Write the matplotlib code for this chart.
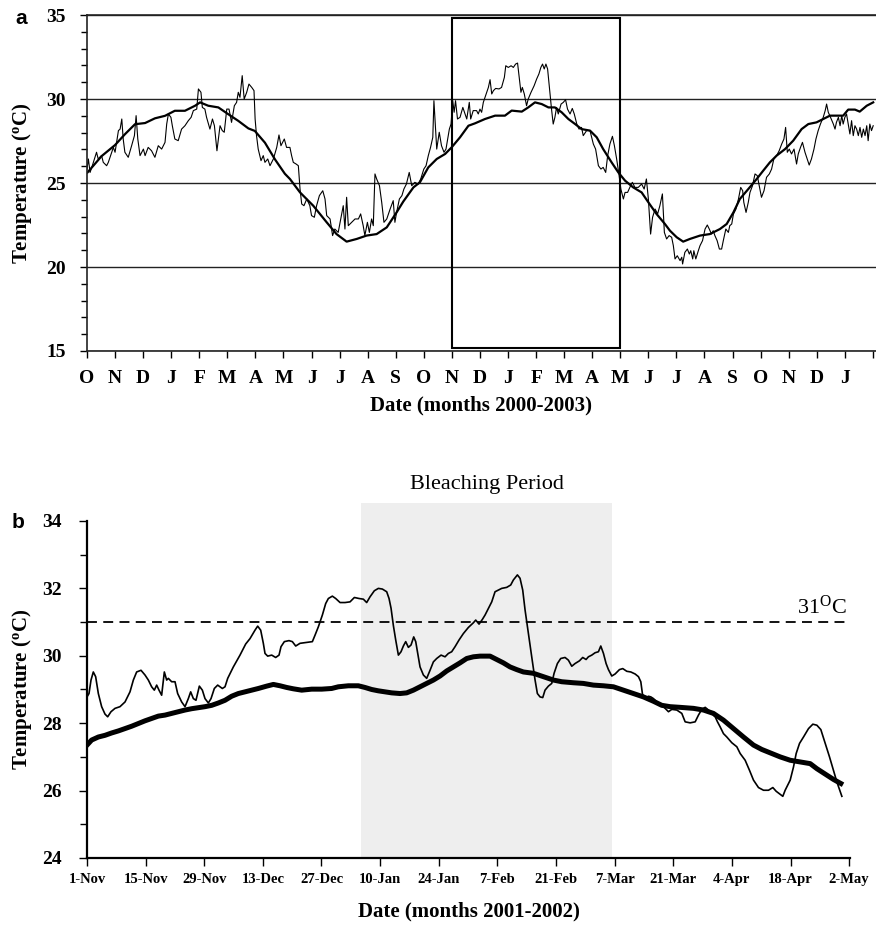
# %%
import matplotlib
matplotlib.use('Agg')
from matplotlib import pyplot as plt
from matplotlib.patches import Rectangle
from matplotlib.ticker import MultipleLocator

plt.rcParams['font.family'] = ['Liberation Serif', 'DejaVu Serif']
plt.rcParams['mathtext.default'] = 'regular'

# %%
# panel a: x = months since 1-Oct-2000
month_letters = ['O', 'N', 'D', 'J', 'F', 'M', 'A', 'M', 'J', 'J', 'A', 'S',
                 'O', 'N', 'D', 'J', 'F', 'M', 'A', 'M', 'J', 'J', 'A', 'S',
                 'O', 'N', 'D', 'J']

daily_month = [
    0.00, 0.05, 0.11, 0.19, 0.34, 0.40, 0.52, 0.58, 0.70, 0.76, 0.88, 0.94, 1.00, 1.12, 1.18, 1.24,
    1.29, 1.35, 1.47, 1.59, 1.69, 1.75, 1.81, 1.89, 2.01, 2.07, 2.18, 2.30, 2.42, 2.54, 2.66, 2.78,
    2.84, 2.90, 2.99, 3.04, 3.13, 3.25, 3.37, 3.49, 3.61, 3.71, 3.79, 3.91, 3.97, 4.06, 4.11, 4.20,
    4.26, 4.38, 4.47, 4.54, 4.63, 4.68, 4.74, 4.82, 4.89, 4.98, 5.06, 5.15, 5.25, 5.33, 5.39, 5.45,
    5.53, 5.60, 5.69, 5.77, 5.87, 5.95, 5.99, 6.04, 6.10, 6.20, 6.28, 6.34, 6.44, 6.52, 6.64, 6.76,
    6.84, 6.91, 7.03, 7.11, 7.23, 7.29, 7.35, 7.45, 7.53, 7.59, 7.65, 7.73, 7.83, 7.94, 8.00, 8.10,
    8.18, 8.28, 8.40, 8.48, 8.54, 8.66, 8.75, 8.83, 8.95, 9.13, 9.19, 9.25, 9.31, 9.43, 9.55, 9.67,
    9.75, 9.84, 9.90, 9.99, 10.06, 10.14, 10.20, 10.26, 10.32, 10.42, 10.50, 10.58, 10.68, 10.80,
    10.91, 10.97, 11.03, 11.13, 11.22, 11.29, 11.38, 11.48, 11.57, 11.68, 11.80, 11.89, 12.00,
    12.08, 12.16, 12.24, 12.32, 12.36, 12.41, 12.46, 12.55, 12.63, 12.72, 12.79, 12.84, 12.91,
    12.97, 13.03, 13.08, 13.13, 13.20, 13.29, 13.39, 13.47, 13.53, 13.62, 13.67, 13.76, 13.88,
    13.94, 14.00, 14.06, 14.12, 14.20, 14.30, 14.36, 14.42, 14.48, 14.56, 14.68, 14.77, 14.87,
    14.92, 15.01, 15.11, 15.19, 15.27, 15.34, 15.40, 15.46, 15.51, 15.58, 15.66, 15.72, 15.82,
    15.93, 16.02, 16.10, 16.17, 16.23, 16.29, 16.35, 16.41, 16.49, 16.55, 16.61, 16.67, 16.73,
    16.79, 16.89, 16.97, 17.05, 17.12, 17.21, 17.29, 17.36, 17.45, 17.53, 17.62, 17.68, 17.80,
    17.92, 18.04, 18.12, 18.22, 18.31, 18.39, 18.48, 18.55, 18.63, 18.72, 18.79, 18.87, 18.95,
    19.02, 19.11, 19.17, 19.26, 19.34, 19.43, 19.52, 19.64, 19.76, 19.85, 19.93, 20.00, 20.08,
    20.15, 20.24, 20.33, 20.41, 20.50, 20.57, 20.65, 20.74, 20.83, 20.89, 20.95, 21.03, 21.13,
    21.19, 21.22, 21.30, 21.39, 21.46, 21.51, 21.58, 21.62, 21.69, 21.78, 21.84, 21.93, 22.02,
    22.10, 22.17, 22.25, 22.31, 22.37, 22.45, 22.53, 22.61, 22.67, 22.76, 22.85, 22.90, 22.97,
    23.03, 23.12, 23.21, 23.29, 23.36, 23.40, 23.48, 23.56, 23.62, 23.71, 23.80, 23.88, 23.95,
    24.03, 24.12, 24.21, 24.31, 24.39, 24.47, 24.57, 24.66, 24.75, 24.83, 24.89, 24.95, 25.02,
    25.10, 25.19, 25.28, 25.34, 25.42, 25.49, 25.58, 25.66, 25.73, 25.81, 25.90, 25.97, 26.05,
    26.13, 26.23, 26.30, 26.35, 26.41, 26.49, 26.59, 26.65, 26.70, 26.77, 26.83, 26.89, 26.94,
    27.00, 27.06, 27.12, 27.18, 27.24, 27.30, 27.36, 27.42, 27.48, 27.54, 27.60, 27.66, 27.72,
    27.78, 27.83, 27.89, 27.95, 28.01]
daily_temp = [
    25.83, 26.43, 25.63, 26.03, 26.83, 26.43, 26.63, 26.23, 26.03, 26.23, 26.83, 27.12, 26.83, 28.12, 28.21, 28.81,
    27.62, 26.83, 26.53, 27.22, 27.82, 29.01, 27.62, 26.63, 27.02, 26.63, 27.12, 26.92, 26.53, 27.22, 27.02, 27.42,
    28.51, 29.11, 28.91, 28.41, 27.62, 27.52, 28.21, 28.41, 28.71, 28.91, 29.31, 29.40, 30.60, 30.40, 29.50, 29.40,
    28.91, 28.21, 28.81, 28.41, 26.92, 27.62, 28.41, 28.12, 28.02, 29.40, 29.40, 28.61, 29.60, 29.80, 30.40, 30.10,
    31.39, 30.00, 30.40, 30.89, 30.69, 30.50, 28.81, 27.82, 27.02, 26.33, 26.63, 26.23, 26.43, 26.03, 26.43, 27.12,
    27.86, 27.22, 27.62, 27.12, 27.12, 26.63, 26.23, 26.13, 26.03, 24.64, 23.75, 23.65, 24.05, 23.65, 23.06, 22.96,
    23.65, 24.25, 24.54, 24.05, 23.06, 22.86, 21.87, 22.26, 22.06, 23.65, 22.26, 24.15, 22.46, 22.66, 22.86, 22.86,
    23.16, 22.46, 21.87, 22.66, 22.06, 22.86, 22.46, 25.54, 25.24, 24.84, 23.85, 22.66, 22.86, 23.45,
    23.95, 22.66, 23.25, 24.05, 24.25, 24.64, 24.94, 25.63, 24.84, 25.04, 24.94, 25.24, 25.83,
    26.03, 26.63, 27.12, 27.72, 29.90, 28.41, 27.02, 28.02, 27.22, 26.83, 27.02, 27.52, 28.21,
    28.51, 29.90, 29.21, 29.90, 28.81, 28.91, 29.50, 29.11, 28.81, 29.80, 28.81, 29.31, 29.31,
    29.11, 29.40, 29.21, 29.80, 30.20, 30.69, 31.15, 30.30, 30.50, 30.63, 30.60, 30.69, 31.29,
    31.98, 31.88, 31.98, 31.88, 32.08, 32.14, 31.29, 30.40, 30.69, 30.30, 29.60, 30.00, 30.40,
    30.79, 31.19, 31.49, 31.88, 32.08, 31.79, 32.08, 31.79, 30.40, 29.40, 28.51, 28.91, 29.50,
    29.11, 29.70, 29.80, 29.96, 29.40, 29.11, 29.44, 29.11, 28.51, 28.21, 28.31, 27.82, 28.12,
    28.12, 27.32, 27.02, 26.03, 25.83, 25.93, 25.63, 26.63, 27.32, 27.78, 27.22, 26.43, 25.54,
    24.64, 24.05, 24.44, 24.44, 24.74, 25.04, 24.74, 24.74, 24.94, 24.64, 25.24, 24.05, 21.96,
    22.96, 23.45, 23.16, 23.65, 24.35, 22.06, 21.67, 21.87, 21.77, 21.27, 20.48, 20.67, 20.38,
    20.58, 20.18, 20.87, 21.07, 20.77, 20.97, 20.48, 20.97, 20.48, 20.97, 21.27, 21.57, 22.26,
    22.50, 22.26, 21.96, 22.16, 21.87, 21.57, 21.07, 21.07, 21.57, 22.26, 22.06, 22.46, 22.56,
    23.15, 23.45, 24.05, 24.74, 24.54, 23.85, 23.25, 23.85, 24.44, 24.84, 25.54, 25.44, 24.84,
    24.15, 24.54, 25.34, 25.54, 25.83, 26.43, 26.63, 26.92, 27.32, 27.62, 28.31, 26.83, 27.02,
    26.73, 27.02, 26.13, 26.73, 27.12, 27.42, 26.83, 26.43, 26.07, 26.43, 27.02, 27.62, 28.12,
    28.51, 28.91, 29.31, 29.70, 29.21, 28.91, 28.51, 28.21, 28.61, 28.91, 28.41, 29.01, 28.51,
    28.91, 29.11, 28.51, 27.92, 28.71, 27.82, 28.41, 28.21, 27.82, 28.31, 27.72, 28.21, 27.82,
    28.41, 27.52, 28.51, 28.12, 28.41]

mean_month = [
    0.02, 0.52, 1.00, 1.35, 1.71, 2.07, 2.42, 2.78, 3.13, 3.49, 3.85, 4.03, 4.32, 4.68, 5.03,
    5.39, 5.75, 5.98, 6.34, 6.70, 7.05, 7.23, 7.59, 8.06, 8.54, 8.89, 9.25, 9.61, 9.96, 10.32,
    10.68, 11.03, 11.27, 11.63, 11.86, 12.16, 12.46, 12.76, 12.99, 13.29, 13.59, 13.82, 14.18,
    14.54, 14.89, 15.13, 15.49, 15.72, 15.96, 16.20, 16.44, 16.67, 16.91, 17.15, 17.39, 17.62,
    17.92, 18.16, 18.39, 18.69, 18.93, 19.17, 19.46, 19.76, 20.00, 20.29, 20.59, 20.77, 21.01,
    21.24, 21.48, 21.84, 22.19, 22.55, 22.79, 23.03, 23.26, 23.56, 23.86, 24.09, 24.33, 24.57,
    24.87, 25.16, 25.46, 25.70, 25.99, 26.23, 26.47, 26.70, 26.94, 27.12, 27.36, 27.53, 27.78,
    28.01]
mean_temp = [
    25.63, 26.60, 27.26, 27.90, 28.50, 28.57, 28.85, 29.00, 29.30, 29.30, 29.60, 29.80, 29.60, 29.50, 29.10,
    28.70, 28.25, 28.10, 27.40, 26.40, 25.55, 25.24, 24.44, 23.65, 22.66, 21.96, 21.51, 21.67, 21.87, 21.96,
    22.36, 23.25, 23.90, 24.74, 25.04, 25.93, 26.43, 26.73, 27.12, 27.72, 28.41, 28.55, 28.81,
    29.01, 29.01, 29.31, 29.25, 29.50, 29.80, 29.70, 29.50, 29.50, 29.21, 28.81, 28.51, 28.21,
    28.12, 27.72, 27.02, 26.23, 25.63, 25.14, 24.74, 24.44, 23.85, 23.16, 22.56, 22.16, 21.77,
    21.51, 21.67, 21.87, 21.96, 22.26, 22.56, 23.25, 24.05, 24.64, 25.24, 25.73, 26.23, 26.63,
    27.02, 27.52, 28.21, 28.51, 28.61, 28.81, 29.01, 29.01, 29.01, 29.37, 29.37, 29.25, 29.60,
    29.80]

zoom_box_months = [13, 19]  # 1-Nov-2001 to 1-May-2002, shown in panel b

# %%
# panel b: x = days since 1-Nov-2001
date_labels = ['1-Nov', '15-Nov', '29-Nov', '13-Dec', '27-Dec', '10-Jan', '24-Jan',
               '7-Feb', '21-Feb', '7-Mar', '21-Mar', '4-Apr', '18-Apr', '2-May']

temp_day = [
    0.0, 0.48, 0.96, 1.51, 2.07, 2.71, 3.50, 4.30, 4.94, 5.73, 6.69, 7.88, 9.08, 10.27, 11.07,
    11.86, 12.90, 13.85, 14.65, 15.44, 16.08, 16.64, 17.20, 17.83, 18.47, 19.03, 19.43, 20.22,
    21.02, 21.65, 22.61, 23.41, 24.20, 24.76, 25.40, 26.03, 26.83, 27.55, 28.18, 28.98, 29.62,
    30.41, 31.21, 32.32, 32.96, 33.60, 34.95, 36.54, 37.90, 38.93, 40.12, 40.76, 41.48, 42.11,
    42.51, 43.15, 44.11, 45.06, 45.86, 46.33, 47.13, 48.24, 49.04, 49.84, 50.87, 52.07, 53.82,
    54.45, 55.25, 56.21, 57.00, 57.64, 58.59, 59.39, 60.43, 61.62, 62.81, 63.85, 64.96, 66.00,
    66.79, 67.59, 68.62, 69.58, 70.54, 71.57, 72.13, 72.61, 73.16, 73.72, 74.36, 74.99, 75.55,
    76.11, 76.75, 77.38, 78.02, 78.50, 78.98, 79.53, 80.33, 81.12, 81.92, 82.72, 83.51, 84.55,
    85.50, 86.30, 87.09, 87.89, 88.85, 89.88, 91.07, 92.27, 92.83, 93.62, 94.42, 95.06, 96.65,
    97.44, 98.24, 99.03, 100.23, 101.18, 101.82, 102.78, 103.41, 104.05, 104.61, 105.40, 106.20,
    107.00, 107.55, 108.19, 108.83, 109.38, 110.18, 110.98, 111.54, 112.33, 113.13, 114.16,
    114.96, 115.76, 116.55, 117.59, 118.38, 119.18, 119.74, 120.54, 121.33, 122.13, 122.69,
    123.33, 123.96, 124.52, 125.32, 126.11, 127.15, 127.94, 128.90, 129.86, 130.89, 131.69,
    132.25, 132.65, 133.28, 134.08, 134.64, 135.27, 136.07, 137.26, 138.06, 138.86, 139.65,
    140.85, 142.04, 142.84, 144.03, 145.23, 146.02, 146.82, 147.62, 148.41, 149.21, 150.01,
    150.56, 151.20, 151.99, 152.79, 153.98, 155.18, 155.98, 157.17, 158.21, 159.16, 160.35,
    161.55, 162.74, 163.78, 164.57, 165.53, 166.16, 166.72, 167.92, 168.71, 169.35, 170.15,
    171.10, 172.30, 173.33, 174.29, 175.24, 176.28, 177.31, 178.27, 179.06, 180.26]
temp_val = [
    28.78, 28.88, 29.28, 29.52, 29.38, 28.88, 28.49, 28.27, 28.19, 28.34, 28.44, 28.49, 28.63, 28.93, 29.28,
    29.52, 29.57, 29.43, 29.28, 29.08, 28.98, 29.13, 28.98, 28.83, 29.52, 29.28, 29.33, 29.23,
    29.23, 28.88, 28.63, 28.49, 28.73, 28.93, 28.73, 28.68, 29.10, 28.98, 28.73, 28.60, 28.73,
    29.03, 29.13, 29.03, 29.08, 29.33, 29.67, 30.02, 30.35, 30.51, 30.76, 30.88, 30.76, 30.37,
    30.07, 29.99, 30.02, 29.95, 30.02, 30.27, 30.42, 30.45, 30.42, 30.29, 30.37, 30.39, 30.42,
    30.61, 30.86, 31.21, 31.55, 31.70, 31.77, 31.70, 31.58, 31.58, 31.60, 31.73, 31.70, 31.68,
    31.58, 31.75, 31.93, 32.00, 31.98, 31.90, 31.70, 31.41, 30.90, 30.47, 30.02, 30.12, 30.29,
    30.42, 30.25, 30.32, 30.56, 30.42, 30.07, 29.67, 29.43, 29.33, 29.57, 29.82, 29.92, 30.02,
    29.97, 30.07, 30.12, 30.27, 30.47, 30.66, 30.84, 30.98, 31.06, 30.94, 31.08, 31.21, 31.60,
    31.90, 31.95, 32.00, 32.03, 32.10, 32.25, 32.40, 32.30, 31.95, 31.36, 30.66, 29.97,
    29.28, 28.88, 28.78, 28.76, 28.98, 29.10, 29.18, 29.48, 29.77, 29.92, 29.95,
    29.87, 29.69, 29.77, 29.85, 29.95, 29.89, 29.97, 30.02, 30.09, 30.12, 30.29,
    30.07, 29.77, 29.59, 29.40, 29.46, 29.59, 29.62, 29.54, 29.52, 29.46, 29.38,
    29.23, 28.86, 28.73, 28.80, 28.78, 28.73, 28.63, 28.53, 28.44, 28.34, 28.41,
    28.39, 28.29, 28.04, 28.01, 28.04, 28.24, 28.41, 28.47, 28.39, 28.29, 28.19,
    28.04, 27.89, 27.69, 27.59, 27.42, 27.30, 27.10, 26.90, 26.60, 26.31, 26.09,
    26.01, 26.01, 26.09, 25.98, 25.89, 25.83, 26.01, 26.31, 26.70, 27.10, 27.40,
    27.59, 27.84, 27.97, 27.94, 27.81, 27.40, 27.00, 26.60, 26.26, 25.83]

smooth_day = [
    0.0, 1.11, 2.71, 4.30, 5.89, 7.48, 9.08, 10.67, 12.26, 13.85, 15.44, 17.04, 18.63, 20.22,
    21.81, 23.41, 25.00, 26.59, 28.18, 29.78, 31.37, 32.96, 34.55, 36.14, 37.74, 39.33, 40.92,
    42.91, 44.51, 46.10, 47.69, 49.28, 51.27, 53.66, 56.05, 58.43, 60.02, 62.41, 64.80, 66.39,
    67.98, 69.58, 71.17, 72.76, 74.75, 76.34, 77.94, 79.53, 81.12, 82.72, 84.31, 85.90, 87.49,
    89.08, 90.68, 92.27, 93.86, 96.25, 97.84, 99.43, 101.02, 102.62, 104.21, 106.60, 108.99,
    111.38, 113.37, 116.16, 118.54, 120.93, 123.33, 125.71, 128.10, 130.49, 132.88, 135.27,
    137.26, 139.25, 141.64, 144.83, 147.21, 149.60, 151.99, 154.38, 156.77, 159.16, 161.15,
    163.14, 165.53, 167.92, 170.31, 172.70, 174.29, 176.28, 178.27, 180.02]
smooth_val = [
    27.35, 27.50, 27.59, 27.64, 27.71, 27.77, 27.84, 27.91, 27.99, 28.07, 28.14, 28.21, 28.24, 28.29,
    28.34, 28.39, 28.43, 28.46, 28.49, 28.53, 28.60, 28.68, 28.80, 28.88, 28.93, 28.98, 29.03,
    29.10, 29.15, 29.11, 29.06, 29.02, 28.98, 29.01, 29.01, 29.03, 29.08, 29.11, 29.11, 29.06,
    29.00, 28.96, 28.93, 28.90, 28.88, 28.90, 28.98, 29.08, 29.18, 29.28, 29.40, 29.55, 29.67,
    29.79, 29.92, 29.97, 29.99, 29.99, 29.89, 29.79, 29.67, 29.59, 29.52, 29.48, 29.38,
    29.28, 29.23, 29.20, 29.18, 29.13, 29.11, 29.08, 28.98, 28.88, 28.78, 28.65,
    28.53, 28.49, 28.47, 28.44, 28.39, 28.29, 28.09, 27.84, 27.59, 27.35, 27.22,
    27.12, 27.00, 26.90, 26.85, 26.80, 26.65, 26.49, 26.33, 26.21]

bleach_days = [65.5, 125.3]   # ~5-Jan to ~6-Mar 2002
threshold_temp = 31
threshold_end_day = 181.5


# %%
def draw_panel_a(ax):
    ax.plot(daily_month, daily_temp, color='black', lw=0.8)
    ax.plot(mean_month, mean_temp, color='black', lw=1.6)
    ax.add_patch(Rectangle((zoom_box_months[0], 15.2), zoom_box_months[1] - zoom_box_months[0], 19.6,
                           fill=False, edgecolor='black', lw=1.5))

    ax.set_xlim(0, 28.11)
    ax.set_ylim(15, 35)
    ax.set_xticks(range(len(month_letters) + 1))
    ax.set_xticklabels(month_letters + [''], fontsize=14, fontweight='bold')
    ax.yaxis.set_major_locator(MultipleLocator(5))
    ax.yaxis.set_minor_locator(MultipleLocator(1))
    ax.yaxis.grid(True, color='#222222', lw=1)
    ax.set_axisbelow(True)
    for lab in ax.get_yticklabels():
        lab.set_fontsize(14)
        lab.set_fontweight('bold')
    ax.tick_params(axis='x', direction='out', length=5, width=1, pad=9)
    ax.tick_params(axis='y', which='major', direction='out', length=5, width=1, pad=10)
    ax.tick_params(axis='y', which='minor', direction='out', length=4, width=1)
    ax.spines['right'].set_visible(False)
    for s in ['left', 'bottom', 'top']:
        ax.spines[s].set_linewidth(1.2)
        ax.spines[s].set_color('#222222')

    ax.set_xlabel('Date (months 2000-2003)', fontsize=15, fontweight='bold', va='center')
    ax.xaxis.set_label_coords(0.5, -0.161)
    ax.set_ylabel('Temperature ($^{o}$C)', fontsize=15, fontweight='bold', va='center')
    ax.yaxis.set_label_coords(-0.0824, 0.5)


def draw_panel_b(ax):
    ax.axvspan(bleach_days[0], bleach_days[1], ymin=0, ymax=1.053, color='#eeeeee', lw=0,
               clip_on=False, zorder=0)
    ax.hlines(threshold_temp, 0, threshold_end_day, colors='black', lw=1.3,
              linestyles=(0, (5.5, 3.5)), zorder=2)
    ax.plot(temp_day, temp_val, color='black', lw=1.2, zorder=3)
    ax.plot(smooth_day, smooth_val, color='black', lw=3.6, zorder=4)

    ax.text((bleach_days[0] + bleach_days[1]) / 2, 35.07, 'Bleaching Period', fontsize=16,
            ha='center', va='center', clip_on=False)
    ax.text(threshold_end_day, threshold_temp + 0.25, '31$^{O}$C', fontsize=16,
            ha='right', va='baseline')

    ax.set_xlim(0, 182.2)
    ax.set_ylim(24, 34)
    ax.set_xticks(range(0, 14 * len(date_labels), 14))
    ax.set_xticklabels(date_labels, fontsize=10.5, fontweight='bold')
    ax.yaxis.set_major_locator(MultipleLocator(2))
    ax.yaxis.set_minor_locator(MultipleLocator(1))
    for lab in ax.get_yticklabels():
        lab.set_fontsize(14)
        lab.set_fontweight('bold')
    ax.tick_params(axis='x', direction='out', length=6, width=1, pad=5)
    ax.tick_params(axis='y', which='major', direction='out', length=6, width=1, pad=12)
    ax.tick_params(axis='y', which='minor', direction='out', length=5, width=1)
    ax.spines['right'].set_visible(False)
    ax.spines['top'].set_visible(False)
    for s in ['left', 'bottom']:
        ax.spines[s].set_linewidth(1.6)
        ax.spines[s].set_zorder(5)

    ax.set_xlabel('Date (months 2001-2002)', fontsize=15, fontweight='bold', va='center')
    ax.xaxis.set_label_coords(0.5, -0.160)
    ax.set_ylabel('Temperature ($^{o}$C)', fontsize=15, fontweight='bold', va='center')
    ax.yaxis.set_label_coords(-0.0852, 0.5)


# %%
def main():
    fig = plt.figure(figsize=(8.76, 9.33), dpi=100)
    ax_a = fig.add_axes([0.0993, 0.6238, 0.9007, 0.3601])
    ax_b = fig.add_axes([0.0993, 0.0804, 0.8710, 0.3612])

    draw_panel_a(ax_a)
    draw_panel_b(ax_b)

    fig.text(21 / 876, 1 - 18 / 933, 'a', fontsize=15, fontweight='bold',
             family=['Liberation Sans', 'DejaVu Sans'], ha='center', va='center')
    fig.text(18 / 876, 1 - 523 / 933, 'b', fontsize=15, fontweight='bold',
             family=['Liberation Sans', 'DejaVu Sans'], ha='center', va='center')

    fig.savefig('out.png', dpi=100)


if __name__ == '__main__':
    main()
